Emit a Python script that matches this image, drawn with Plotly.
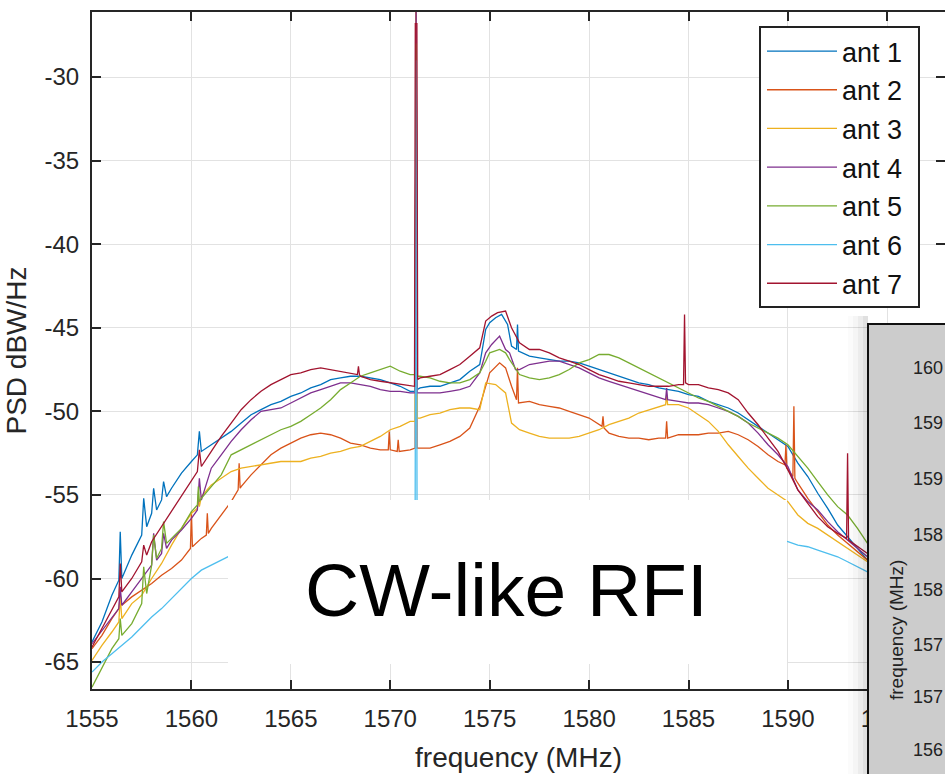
import plotly.graph_objects as go

# ---------------- data (frequency MHz, PSD dBW/Hz) ----------------
ant1 = [(1555.0,-63.8),(1555.5,-62.6),(1556.0,-61.0),(1556.35,-60.1),(1556.42,-57.2),(1556.5,-60.0),(1557.0,-58.6),
        (1557.5,-57.4),(1557.6,-55.2),(1557.75,-56.9),(1558.0,-56.1),(1558.1,-54.6),(1558.25,-55.9),(1558.5,-55.3),
        (1558.6,-54.2),(1558.75,-55.1),(1559.0,-54.6),(1559.5,-53.7),(1560.0,-53.0),(1560.3,-52.6),(1560.4,-51.2),
        (1560.5,-52.4),(1561.0,-52.0),(1561.5,-51.6),(1562.0,-51.2),(1562.5,-50.7),(1563.0,-50.2),(1563.5,-49.9),
        (1564.0,-49.6),(1564.5,-49.4),(1565.0,-49.1),(1565.5,-48.9),(1566.0,-48.6),(1566.5,-48.4),(1567.0,-48.1),
        (1567.5,-48.0),(1568.0,-47.9),(1568.5,-47.9),(1569.0,-48.0),(1569.5,-48.1),(1570.0,-48.3),(1570.5,-48.5),
        (1571.0,-48.8),(1571.25,-48.8),(1571.3,-24.0),(1571.35,-48.7),(1571.5,-48.6),(1572.0,-48.5),(1572.5,-48.5),
        (1573.0,-48.3),(1573.5,-48.1),(1574.0,-47.6),(1574.5,-47.2),(1574.8,-45.1),(1575.0,-44.7),(1575.3,-44.4),
        (1575.6,-44.2),(1575.9,-44.8),(1576.1,-46.1),(1576.35,-46.3),(1576.4,-44.8),(1576.45,-46.4),(1576.8,-46.6),
        (1577.0,-46.7),(1577.5,-46.8),(1578.0,-46.9),(1578.5,-47.0),(1579.0,-47.0),(1579.5,-47.1),(1580.0,-47.3),
        (1580.5,-47.5),(1581.0,-47.7),(1581.5,-47.9),(1582.0,-48.1),(1582.5,-48.3),(1583.0,-48.4),(1583.5,-48.6),
        (1584.0,-48.7),(1584.5,-48.8),(1585.0,-49.0),(1585.5,-49.1),(1586.0,-49.4),(1586.5,-49.6),(1587.0,-49.8),
        (1587.5,-50.1),(1588.0,-50.5),(1588.5,-50.9),(1589.0,-51.3),(1589.5,-51.7),(1590.0,-52.1),(1590.5,-53.1),
        (1591.0,-53.9),(1591.5,-54.9),(1592.0,-55.8),(1592.5,-56.8),(1593.0,-57.5),(1593.5,-58.2),(1594.0,-58.9),
        (1594.5,-59.3),(1595.0,-59.7)]

ant2 = [(1555.0,-64.2),(1555.5,-63.4),(1556.0,-62.4),(1556.35,-61.8),(1556.42,-61.0),(1556.5,-61.6),(1557.0,-61.1),
        (1557.5,-60.7),(1558.0,-60.3),(1558.5,-59.8),(1559.0,-59.4),(1559.5,-58.9),(1559.95,-58.2),(1560.0,-56.0),
        (1560.05,-58.1),(1560.5,-57.6),(1560.75,-57.4),(1560.8,-56.1),(1560.85,-57.3),(1561.0,-57.0),(1561.5,-56.2),
        (1562.0,-55.4),(1562.35,-54.7),(1562.4,-53.1),(1562.45,-54.6),(1562.5,-54.5),(1563.0,-53.8),(1563.5,-53.2),
        (1564.0,-52.6),(1564.5,-52.2),(1565.0,-51.9),(1565.5,-51.6),(1566.0,-51.4),(1566.5,-51.3),(1567.0,-51.4),
        (1567.5,-51.6),(1568.0,-51.9),(1568.5,-52.0),(1569.0,-52.2),(1569.5,-52.3),(1569.9,-52.3),(1569.95,-51.2),
        (1570.0,-52.3),(1570.35,-52.4),(1570.4,-51.7),(1570.45,-52.4),(1571.0,-52.3),(1571.25,-52.2),(1571.3,-24.0),
        (1571.35,-52.2),(1571.5,-52.2),(1572.0,-52.2),(1572.5,-52.0),(1573.0,-51.8),(1573.5,-51.5),(1574.0,-51.0),
        (1574.5,-49.7),(1575.0,-47.7),(1575.5,-47.1),(1575.8,-47.4),(1576.1,-48.5),(1576.35,-49.3),(1576.4,-47.4),
        (1576.45,-49.5),(1577.0,-49.4),(1577.5,-49.6),(1578.0,-49.7),(1578.5,-49.8),(1579.0,-50.0),(1579.5,-50.2),
        (1580.0,-50.4),(1580.65,-50.9),(1580.7,-50.3),(1580.75,-51.0),(1581.0,-51.3),(1581.5,-51.5),(1582.0,-51.6),
        (1582.5,-51.6),(1583.0,-51.7),(1583.5,-51.6),(1583.85,-51.6),(1583.9,-50.6),(1583.95,-51.6),(1584.5,-51.4),
        (1585.0,-51.4),(1585.5,-51.4),(1586.0,-51.3),(1586.5,-51.3),(1587.0,-51.2),(1587.5,-51.4),(1588.0,-51.7),
        (1588.5,-52.1),(1589.0,-52.6),(1589.5,-53.0),(1589.85,-53.2),(1589.9,-52.0),(1589.95,-53.4),(1590.25,-53.9),
        (1590.3,-49.7),(1590.35,-54.0),(1590.5,-54.3),(1591.0,-55.2),(1591.5,-56.0),(1592.0,-56.8),(1592.5,-57.4),
        (1593.0,-57.9),(1593.5,-58.4),(1594.0,-58.9),(1594.5,-59.2),(1595.0,-59.6)]

ant3 = [(1555.0,-64.9),(1555.5,-64.0),(1556.0,-63.2),(1556.35,-62.6),(1556.42,-61.1),(1556.5,-62.4),(1557.0,-61.5),
        (1557.5,-61.0),(1558.0,-60.0),(1558.5,-59.1),(1559.0,-58.0),(1559.5,-57.0),(1560.0,-56.1),(1560.3,-55.8),
        (1560.35,-55.2),(1560.4,-55.7),(1560.5,-55.1),(1561.0,-54.4),(1561.5,-54.0),(1562.0,-53.6),(1562.5,-53.4),
        (1563.0,-53.3),(1563.5,-53.2),(1564.0,-53.1),(1564.5,-53.0),(1565.0,-53.0),(1565.5,-53.0),(1566.0,-52.8),
        (1566.5,-52.7),(1567.0,-52.5),(1567.5,-52.4),(1568.0,-52.2),(1568.5,-52.1),(1569.0,-51.8),(1569.5,-51.5),
        (1570.0,-51.1),(1570.5,-50.9),(1571.0,-50.6),(1571.25,-50.6),(1571.3,-24.0),(1571.35,-50.4),(1571.5,-50.4),
        (1572.0,-50.2),(1572.5,-50.1),(1573.0,-49.9),(1573.5,-49.8),(1574.0,-49.8),(1574.5,-49.9),(1574.8,-48.3),
        (1575.3,-48.4),(1575.8,-48.9),(1576.1,-50.7),(1576.5,-51.1),(1577.0,-51.3),(1577.5,-51.5),(1578.0,-51.6),
        (1578.5,-51.6),(1579.0,-51.6),(1579.5,-51.5),(1580.0,-51.3),(1580.5,-51.1),(1581.0,-50.8),(1581.5,-50.6),
        (1582.0,-50.4),(1582.5,-50.1),(1583.0,-49.9),(1583.5,-49.7),(1583.85,-49.6),(1583.9,-49.0),(1583.95,-49.6),
        (1584.5,-49.6),(1585.0,-49.8),(1585.5,-50.2),(1586.0,-50.6),(1586.5,-51.2),(1587.0,-52.0),(1587.5,-52.7),
        (1588.0,-53.4),(1588.5,-54.0),(1589.0,-54.6),(1589.5,-55.0),(1590.0,-55.4),(1590.5,-56.2),(1591.0,-56.7),
        (1591.5,-57.0),(1592.0,-57.4),(1592.5,-57.8),(1593.0,-58.2),(1593.5,-58.6),(1594.0,-59.0),(1594.5,-59.3),
        (1595.0,-59.6)]

ant4 = [(1555.0,-63.9),(1555.5,-63.1),(1556.0,-62.3),(1556.35,-61.8),(1556.42,-60.5),(1556.5,-61.6),(1557.0,-60.8),
        (1557.5,-60.0),(1558.0,-59.2),(1558.1,-57.3),(1558.25,-58.9),(1558.5,-58.5),(1558.6,-57.3),(1558.75,-58.2),
        (1559.0,-57.7),(1559.5,-57.1),(1560.0,-56.4),(1560.3,-55.9),(1560.4,-54.0),(1560.5,-55.3),(1561.0,-53.4),
        (1561.5,-52.6),(1562.0,-51.8),(1562.5,-51.1),(1563.0,-50.5),(1563.5,-50.0),(1564.0,-49.9),(1564.5,-49.8),
        (1565.0,-49.5),(1565.5,-49.2),(1566.0,-48.9),(1566.5,-48.7),(1567.0,-48.5),(1567.5,-48.3),(1568.0,-48.3),
        (1568.5,-48.4),(1569.0,-48.5),(1569.5,-48.7),(1570.0,-48.8),(1570.5,-48.8),(1571.0,-48.9),(1571.25,-48.9),
        (1571.3,-24.0),(1571.35,-48.9),(1571.5,-48.9),(1572.0,-48.9),(1572.5,-48.9),(1573.0,-48.8),(1573.5,-48.7),
        (1574.0,-48.5),(1574.5,-47.7),(1574.8,-46.5),(1575.1,-46.0),(1575.5,-45.5),(1575.8,-46.3),(1576.0,-46.5),
        (1576.3,-47.5),(1576.5,-47.5),(1577.0,-47.2),(1577.5,-47.1),(1578.0,-47.0),(1578.5,-47.0),(1579.0,-47.2),
        (1579.5,-47.4),(1580.0,-47.7),(1580.5,-48.0),(1581.0,-48.2),(1581.5,-48.4),(1582.0,-48.6),(1582.5,-48.8),
        (1583.0,-49.0),(1583.5,-49.2),(1583.85,-49.3),(1583.9,-48.6),(1583.95,-49.3),(1584.5,-49.4),(1585.0,-49.5),
        (1585.5,-49.5),(1586.0,-49.6),(1586.5,-49.8),(1587.0,-50.0),(1587.5,-50.3),(1588.0,-50.7),(1588.5,-51.3),
        (1589.0,-52.0),(1589.5,-52.6),(1590.0,-53.3),(1590.5,-54.7),(1591.0,-55.4),(1591.5,-55.9),(1592.0,-56.6),
        (1592.5,-57.2),(1593.0,-57.7),(1593.5,-58.2),(1594.0,-58.7),(1594.5,-59.0),(1595.0,-59.3)]

ant5 = [(1555.0,-66.5),(1555.5,-65.3),(1556.0,-64.2),(1556.35,-63.6),(1556.42,-62.4),(1556.5,-63.4),(1557.0,-62.7),
        (1557.5,-61.5),(1557.6,-59.3),(1557.75,-60.9),(1558.0,-59.2),(1558.1,-57.4),(1558.25,-58.8),(1558.5,-58.2),
        (1558.6,-56.6),(1558.75,-57.9),(1559.0,-57.6),(1559.5,-57.0),(1560.0,-56.0),(1560.3,-55.6),(1560.35,-54.5),
        (1560.4,-55.4),(1560.5,-55.2),(1561.0,-54.5),(1561.5,-53.8),(1562.0,-52.6),(1562.5,-52.3),(1563.0,-52.0),
        (1563.5,-51.7),(1564.0,-51.4),(1564.5,-51.1),(1565.0,-50.9),(1565.5,-50.6),(1566.0,-50.2),(1566.5,-49.8),
        (1567.0,-49.3),(1567.5,-48.7),(1568.0,-48.3),(1568.5,-47.9),(1569.0,-47.7),(1569.5,-47.5),(1570.0,-47.3),
        (1570.5,-47.6),(1571.0,-47.8),(1571.25,-47.8),(1571.3,-28.0),(1571.35,-47.9),(1571.5,-47.9),(1572.0,-48.0),
        (1572.5,-48.2),(1573.0,-48.3),(1573.5,-48.3),(1574.0,-48.1),(1574.5,-47.7),(1574.8,-47.0),(1575.0,-46.5),
        (1575.5,-46.3),(1575.8,-46.5),(1576.0,-46.9),(1576.5,-47.8),(1577.0,-48.0),(1577.5,-48.1),(1578.0,-48.0),
        (1578.5,-47.8),(1579.0,-47.5),(1579.5,-47.1),(1580.0,-46.9),(1580.5,-46.6),(1581.0,-46.6),(1581.5,-46.8),
        (1582.0,-47.1),(1582.5,-47.4),(1583.0,-47.7),(1583.5,-48.0),(1584.0,-48.3),(1584.5,-48.6),(1585.0,-48.9),
        (1585.5,-49.2),(1586.0,-49.4),(1586.5,-49.7),(1587.0,-50.0),(1587.5,-50.3),(1588.0,-50.7),(1588.5,-51.0),
        (1589.0,-51.3),(1589.5,-51.6),(1590.0,-52.0),(1590.5,-52.7),(1591.0,-53.4),(1591.5,-54.2),(1592.0,-55.0),
        (1592.5,-55.7),(1593.0,-56.2),(1593.5,-57.0),(1594.0,-57.9),(1594.5,-58.4),(1595.0,-58.8)]

ant6 = [(1555.0,-65.6),(1555.5,-65.0),(1556.0,-64.5),(1556.5,-64.0),(1557.0,-63.5),(1557.5,-62.9),(1558.0,-62.3),
        (1558.5,-61.8),(1559.0,-61.2),(1559.5,-60.6),(1560.0,-60.0),(1560.5,-59.5),(1561.0,-59.2),(1561.5,-58.9),
        (1562.0,-58.6),(1564.0,-58.0),(1566.0,-57.6),(1568.0,-57.3),(1570.0,-57.2),(1571.25,-57.2),(1571.3,-29.0),
        (1571.35,-57.1),(1573.0,-57.0),(1575.0,-56.0),(1576.0,-56.3),(1578.0,-56.8),(1580.0,-56.8),(1582.0,-56.9),
        (1584.0,-57.0),(1586.0,-57.1),(1588.0,-57.4),(1589.5,-57.7),(1590.0,-57.8),(1590.5,-58.0),(1591.0,-58.1),
        (1591.5,-58.3),(1592.0,-58.5),(1592.5,-58.7),(1593.0,-59.0),(1593.5,-59.3),(1594.0,-59.6),(1594.5,-59.8),
        (1595.0,-60.0)]

ant7 = [(1555.0,-64.1),(1555.5,-63.0),(1556.0,-61.9),(1556.35,-61.1),(1556.42,-59.1),(1556.5,-60.8),(1557.0,-60.0),
        (1557.5,-59.0),(1557.6,-58.0),(1557.75,-58.6),(1558.0,-57.8),(1558.5,-56.9),(1559.0,-56.0),(1559.5,-55.1),
        (1560.0,-54.2),(1560.3,-53.6),(1560.4,-52.3),(1560.5,-53.3),(1561.0,-52.4),(1561.5,-51.5),(1562.0,-50.7),
        (1562.5,-49.9),(1563.0,-49.3),(1563.5,-48.8),(1564.0,-48.4),(1564.5,-48.1),(1565.0,-47.8),(1565.5,-47.7),
        (1566.0,-47.5),(1566.5,-47.4),(1567.0,-47.5),(1567.5,-47.6),(1568.0,-47.7),(1568.35,-47.8),(1568.4,-47.3),
        (1568.45,-47.8),(1568.5,-47.9),(1569.0,-48.1),(1569.5,-48.2),(1570.0,-48.3),(1570.5,-48.4),(1571.0,-48.5),
        (1571.22,-48.5),(1571.26,-26.8),(1571.34,-26.8),(1571.38,-48.1),(1571.5,-48.0),(1572.0,-47.9),(1572.5,-47.8),
        (1573.0,-47.5),(1573.5,-47.2),(1574.0,-46.7),(1574.5,-46.2),(1574.8,-44.6),(1575.1,-44.3),(1575.4,-44.1),
        (1575.8,-44.0),(1576.1,-45.0),(1576.5,-45.9),(1577.0,-46.3),(1577.5,-46.3),(1578.0,-46.5),(1578.5,-46.8),
        (1579.0,-47.0),(1579.5,-47.2),(1580.0,-47.5),(1580.5,-47.8),(1581.0,-48.0),(1581.5,-48.2),(1582.0,-48.3),
        (1582.5,-48.4),(1583.0,-48.5),(1583.5,-48.5),(1584.0,-48.5),(1584.5,-48.4),(1584.75,-48.4),(1584.8,-44.2),
        (1584.85,-48.3),(1585.0,-48.4),(1585.5,-48.4),(1586.0,-48.6),(1586.5,-48.7),(1587.0,-48.9),(1587.5,-49.3),
        (1588.0,-50.1),(1588.5,-50.8),(1589.0,-51.6),(1589.5,-52.4),(1590.0,-53.5),(1590.5,-54.7),(1591.0,-55.5),
        (1591.5,-56.3),(1592.0,-56.9),(1592.5,-57.3),(1592.95,-57.6),(1593.0,-52.5),(1593.05,-57.7),(1593.5,-58.1),
        (1594.0,-58.5),(1594.5,-58.8),(1595.0,-59.1)]

series_names = ["ant 1", "ant 2", "ant 3", "ant 4", "ant 5", "ant 6", "ant 7"]
series_data = [ant1, ant2, ant3, ant4, ant5, ant6, ant7]
colors = ["#0072BD", "#D95319", "#EDB120", "#7E2F8E", "#77AC30", "#4DBEEE", "#A2142F"]

x_ticks = [1555, 1560, 1565, 1570, 1575, 1580, 1585, 1590, 1595]
x_ticktext = ["1555", "1560", "1565", "1570", "1575", "1580", "1585", "1590", "1595"]
y_ticks = [-65, -60, -55, -50, -45, -40, -35, -30]
y_ticktext = ["-65", "-60", "-55", "-50", "-45", "-40", "-35", "-30"]
inset_ticks = ["160", "159", "159", "158", "158", "157", "157", "156"]
annotation_text = "CW-like RFI"

# ---------------- figure ----------------
W, H = 945, 774
L, R, T, B = 92, 0, 12, 85
pw, ph = W - L - R, H - T - B

def px(xp):
    return (xp - L) / pw

def py(yp):
    return 1 - (yp - T) / ph

FONT = "Liberation Sans, Arial, sans-serif"
AX = "#262626"

fig = go.Figure()
for i, (name, data) in enumerate(zip(series_names, series_data)):
    fig.add_trace(go.Scatter(
        x=[d[0] for d in data], y=[d[1] for d in data],
        mode="lines", name=name, legendgroup=name,
        line=dict(color=colors[i], width=1.3),
    ))

axis_common = dict(
    showline=True, linecolor=AX, linewidth=2, mirror="ticks",
    ticks="inside", ticklen=9, tickwidth=2, tickcolor=AX,
    showgrid=True, gridcolor="#e2e2e2", gridwidth=1, zeroline=False,
    tickfont=dict(family=FONT, size=24, color=AX),
)

fig.update_xaxes(range=[1555, 1597.9], tickvals=x_ticks, ticktext=x_ticktext, ticklabelstandoff=7,
                 title=dict(text="frequency (MHz)", font=dict(family=FONT, size=28, color=AX), standoff=17),
                 **axis_common)
fig.update_yaxes(range=[-66.61, -26.11], tickvals=y_ticks, ticktext=y_ticktext, ticklabelstandoff=6,
                 title=dict(text="PSD dBW/Hz", font=dict(family=FONT, size=28, color=AX), standoff=10),
                 **axis_common)

shapes = []
# legend frame (white box with dark border) under the legend entries
shapes.append(dict(type="rect", xref="paper", yref="paper", layer="above",
                   x0=px(760), x1=px(919), y0=py(307), y1=py(27),
                   fillcolor="white", line=dict(color="#222222", width=2)))
# white box hiding the lower middle of the plot, holding the label
shapes.append(dict(type="rect", xref="paper", yref="paper", layer="above",
                   x0=px(228), x1=px(787), y0=py(664), y1=py(500),
                   fillcolor="white", line=dict(width=0)))
# soft shadow left of the grey panel
for k, a in enumerate([0.015, 0.025, 0.035, 0.05]):
    shapes.append(dict(type="rect", xref="paper", yref="paper", layer="above",
                       x0=px(848 + 5 * k), x1=px(868), y0=py(800), y1=py(316),
                       fillcolor=f"rgba(0,0,0,{a})", line=dict(width=0)))
# grey overlapping panel
shapes.append(dict(type="rect", xref="paper", yref="paper", layer="above",
                   x0=px(868), x1=px(1000), y0=py(800), y1=py(324),
                   fillcolor="#cccccc", line=dict(color="#111111", width=2)))

annotations = [dict(text=annotation_text, xref="paper", yref="paper", x=px(506), y=py(590),
                    xanchor="center", yanchor="middle", showarrow=False,
                    font=dict(family=FONT, size=75, color="black"))]
inset_y = [368, 423, 479, 535, 590, 645, 697, 750]
for lab, yy in zip(inset_ticks, inset_y):
    annotations.append(dict(text=lab, xref="paper", yref="paper", x=px(911), y=py(yy),
                            xanchor="left", yanchor="middle", showarrow=False,
                            font=dict(family=FONT, size=18, color="#222222")))
annotations.append(dict(text="frequency (MHz)", xref="paper", yref="paper", x=px(896), y=py(630),
                        xanchor="center", yanchor="middle", showarrow=False, textangle=-90,
                        font=dict(family=FONT, size=19, color="#222222")))

fig.update_layout(
    width=W, height=H, margin=dict(l=L, r=R, t=T, b=B, autoexpand=False),
    paper_bgcolor="white", plot_bgcolor="white",
    shapes=shapes, annotations=annotations,
    legend=dict(x=px(762), y=py(27), xanchor="left", yanchor="top",
                bgcolor="rgba(0,0,0,0)", borderwidth=0,
                font=dict(family=FONT, size=27, color="#111111"),
                itemwidth=70, tracegroupgap=0.6, traceorder="grouped"),
    showlegend=True,
)

fig.write_html("out.html")
